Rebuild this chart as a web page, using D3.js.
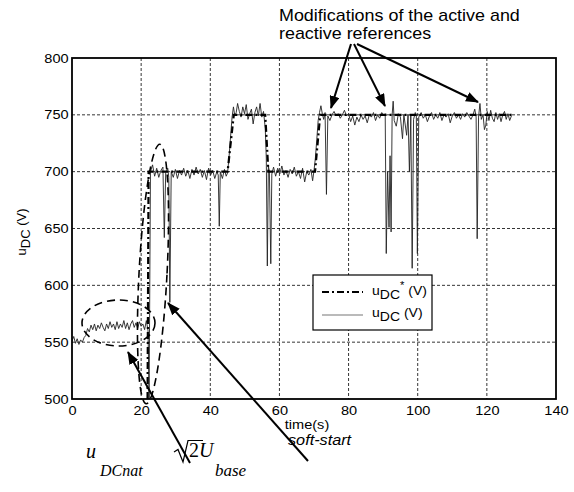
<!DOCTYPE html>
<html>
<head>
<meta charset="utf-8">
<script src="https://cdn.jsdelivr.net/npm/d3@7"></script>
<style>
  body { margin: 0; background: #fff; }
  svg { display: block; font-family: Arial, "Liberation Sans", sans-serif; }
</style>
</head>
<body>
<div id="chart"></div>
<script>
// axis ticks
var xTicks = [0, 20, 40, 60, 80, 100, 120, 140];
var yTicks = [500, 550, 600, 650, 700, 750, 800];

// reference u_DC* [time, volts]
var reference = [
  [21.85, 500], [22.15, 700], [45.0, 700], [46.8, 750], [55.9, 750],
  [56.8, 700], [70.3, 700], [71.8, 750], [127.4, 750]
];

var measured = [
  [0.0, 551], [0.5, 555], [1.0, 549], [1.5, 553], [2.0, 548], [2.5, 552], [3.0, 550],
  [3.5, 554], [4.0, 556], [4.5, 562], [5.0, 559], [5.5, 565], [6.0, 561], [6.5, 566],
  [7.0, 560], [7.5, 565], [8.0, 562], [8.5, 567], [9.0, 563], [9.5, 560], [10.0, 566],
  [10.5, 562], [11.0, 568], [11.5, 563], [12.0, 566], [12.5, 561], [13.0, 568], [13.5, 562],
  [14.0, 566], [14.5, 563], [15.0, 569], [15.5, 562], [16.0, 567], [16.5, 561], [17.0, 566],
  [17.5, 569], [18.0, 563], [18.5, 567], [19.0, 562], [19.5, 568], [20.0, 564], [20.5, 566],
  [21.0, 561], [21.5, 569], [22.0, 560], [22.3, 500], [22.7, 700], [23.3, 706], [23.9, 696],
  [24.5, 703], [25.1, 695], [25.7, 701], [26.3, 704], [26.7, 642], [27.1, 699], [27.7, 703],
  [28.0, 695], [28.3, 585], [28.7, 700], [29.3, 695], [29.9, 702], [30.5, 694], [31.1, 701],
  [31.7, 697], [32.3, 703], [32.9, 696], [33.5, 701], [34.1, 694], [34.7, 702], [35.3, 697],
  [35.9, 704], [36.5, 698], [37.1, 702], [37.7, 695], [38.3, 701], [38.9, 693], [39.5, 703],
  [40.1, 697], [40.7, 701], [41.3, 694], [41.9, 700], [42.3, 697], [42.6, 652], [42.9, 700],
  [43.5, 694], [44.1, 702], [44.6, 696], [45.0, 699], [45.4, 712], [45.8, 728], [46.3, 748],
  [46.7, 757], [47.1, 749], [47.5, 752], [47.9, 760], [48.4, 753], [48.9, 748], [49.4, 757],
  [49.9, 751], [50.4, 759], [50.9, 746], [51.4, 751], [51.9, 755], [52.4, 742], [52.9, 752],
  [53.4, 757], [53.9, 749], [54.4, 760], [54.9, 748], [55.4, 753], [55.9, 738], [56.2, 712],
  [56.5, 617], [56.8, 705], [57.1, 700], [57.5, 619], [57.8, 698], [58.3, 704], [58.9, 696],
  [59.5, 703], [60.1, 698], [60.7, 705], [61.3, 697], [61.9, 701], [62.5, 695], [63.1, 702],
  [63.7, 698], [64.3, 704], [64.9, 696], [65.5, 700], [66.1, 694], [66.7, 703], [67.3, 691],
  [67.9, 700], [68.5, 697], [69.1, 702], [69.6, 692], [70.0, 701], [70.4, 712], [70.8, 728],
  [71.2, 745], [71.6, 752], [72.0, 758], [72.4, 751], [72.8, 746], [73.2, 752], [73.6, 680],
  [74.0, 749], [74.6, 745], [75.2, 750], [75.8, 753], [76.4, 749], [77.0, 751], [77.6, 747],
  [78.2, 750], [78.8, 754], [79.4, 749], [80.0, 751], [80.6, 744], [81.2, 749], [81.8, 741],
  [82.4, 748], [83.0, 744], [83.6, 750], [84.2, 746], [84.8, 749], [85.4, 743], [86.0, 750],
  [86.6, 748], [87.2, 752], [87.8, 745], [88.4, 750], [89.0, 747], [89.6, 752], [90.2, 749],
  [90.6, 751], [90.9, 628], [91.3, 700], [91.7, 651], [92.0, 714], [92.3, 647], [92.6, 750],
  [92.9, 762], [93.2, 745], [93.8, 740], [94.4, 751], [95.0, 748], [95.6, 729], [96.0, 750],
  [96.8, 732], [97.2, 750], [97.6, 700], [98.0, 749], [98.4, 615], [98.8, 746], [99.3, 752],
  [99.6, 750], [99.9, 628], [100.3, 748], [101.0, 752], [101.6, 747], [102.2, 750], [102.8, 744],
  [103.4, 749], [104.0, 752], [104.6, 746], [105.2, 750], [105.8, 747], [106.4, 752], [107.0, 745],
  [107.6, 750], [108.2, 748], [108.8, 751], [109.4, 743], [110.0, 749], [110.6, 752], [111.2, 747],
  [111.8, 750], [112.4, 746], [113.0, 751], [113.6, 748], [114.2, 752], [114.8, 749], [115.4, 746],
  [116.0, 750], [116.5, 755], [116.9, 748], [117.2, 641], [117.6, 748], [118.0, 760], [118.4, 746],
  [118.9, 750], [119.3, 737], [119.7, 741], [120.1, 753], [120.6, 745], [121.1, 754], [121.6, 747],
  [122.1, 744], [122.6, 752], [123.1, 746], [123.6, 751], [124.1, 744], [124.6, 750], [125.1, 753],
  [125.6, 746], [126.1, 751], [126.6, 745], [127.1, 749]
];

var svgWidth = 574;
var svgHeight = 492;
var margin = { top: 58, right: 18, bottom: 93, left: 72 };
var width = svgWidth - margin.left - margin.right;
var height = svgHeight - margin.top - margin.bottom;
var sx = 1.12; // the figure is a little stretched sideways

var svg = d3.select("#chart").append("svg")
  .attr("width", svgWidth)
  .attr("height", svgHeight);

var defs = svg.append("defs");
defs.append("clipPath").attr("id", "plotClip")
  .append("rect").attr("width", width).attr("height", height);
defs.append("marker")
  .attr("id", "head")
  .attr("markerUnits", "userSpaceOnUse")
  .attr("markerWidth", 13).attr("markerHeight", 10)
  .attr("refX", 12).attr("refY", 5)
  .attr("orient", "auto")
  .append("path").attr("d", "M0,0 L13,5 L0,10 Z").attr("fill", "#000");

var chartGroup = svg.append("g")
  .attr("transform", `translate(${margin.left}, ${margin.top})`);

var xScale = d3.scaleLinear().domain([0, 140]).range([0, width]);
var yScale = d3.scaleLinear().domain([500, 800]).range([height, 0]);

// grid
chartGroup.append("g")
  .selectAll("line")
  .data(xTicks.slice(1, -1))
  .enter().append("line")
  .attr("x1", d => xScale(d)).attr("x2", d => xScale(d))
  .attr("y1", 0).attr("y2", height)
  .attr("stroke", "#000").attr("stroke-width", 0.8)
  .attr("stroke-dasharray", "3,2");
chartGroup.append("g")
  .selectAll("line")
  .data(yTicks.slice(1, -1))
  .enter().append("line")
  .attr("x1", 0).attr("x2", width)
  .attr("y1", d => yScale(d)).attr("y2", d => yScale(d))
  .attr("stroke", "#000").attr("stroke-width", 0.8)
  .attr("stroke-dasharray", "3,2");

// axes (labels only, the box is drawn below)
var bottomAxis = d3.axisBottom(xScale).tickValues(xTicks).tickSize(0).tickPadding(7);
var leftAxis = d3.axisLeft(yScale).tickValues(yTicks).tickSize(0).tickPadding(3);

var xAxis = chartGroup.append("g")
  .attr("transform", `translate(0, ${height})`)
  .call(bottomAxis);
var yAxis = chartGroup.append("g").call(leftAxis);

[xAxis, yAxis].forEach(function(ax) {
  ax.select(".domain").remove();
  ax.selectAll("text")
    .attr("font-size", 13)
    .attr("font-family", "Arial, 'Liberation Sans', sans-serif")
    .attr("fill", "#000")
    .attr("transform", `scale(${sx},1)`);
});

// lines
var line = d3.line().x(d => xScale(d[0])).y(d => yScale(d[1]));
var plot = chartGroup.append("g").attr("clip-path", "url(#plotClip)");

plot.append("path")
  .datum(measured)
  .attr("d", line)
  .attr("fill", "none")
  .attr("stroke", "#222")
  .attr("stroke-width", 0.9);

plot.append("path")
  .datum(reference)
  .attr("d", line)
  .attr("fill", "none")
  .attr("stroke", "#000")
  .attr("stroke-width", 2.2)
  .attr("stroke-dasharray", "7,3,2,3");

// box
chartGroup.append("rect")
  .attr("width", width).attr("height", height)
  .attr("fill", "none").attr("stroke", "#000").attr("stroke-width", 1.8);

// helper for stretched text
function label(x, y, str, size, extra) {
  var g = svg.append("g").attr("transform", `translate(${x},${y}) scale(${sx},1)`);
  var t = g.append("text").attr("font-size", size).attr("fill", "#000").text(str);
  if (extra) extra(t);
  return t;
}

// axis titles
label(307, 429, "time(s)", 13, t => t.attr("text-anchor", "middle"));

var yl = svg.append("text")
  .attr("transform", "translate(26, 232) rotate(-90)")
  .attr("text-anchor", "middle")
  .attr("font-size", 13);
yl.append("tspan").text("u");
yl.append("tspan").attr("dy", 4).text("DC");
yl.append("tspan").attr("dy", -4).text(" (V)");

// dashed ellipses
svg.append("ellipse")
  .attr("cx", 118.5).attr("cy", 323).attr("rx", 36.5).attr("ry", 23)
  .attr("fill", "none").attr("stroke", "#000").attr("stroke-width", 1.6)
  .attr("stroke-dasharray", "8,5");
svg.append("ellipse")
  .attr("transform", "translate(153, 274) rotate(3)")
  .attr("rx", 14).attr("ry", 130)
  .attr("fill", "none").attr("stroke", "#000").attr("stroke-width", 1.6)
  .attr("stroke-dasharray", "8,5");

// legend
var legend = svg.append("g");
legend.append("rect")
  .attr("x", 313).attr("y", 275).attr("width", 119).attr("height", 55)
  .attr("fill", "#fff").attr("stroke", "#000").attr("stroke-width", 1.2);
legend.append("line")
  .attr("x1", 322).attr("x2", 363).attr("y1", 292).attr("y2", 292)
  .attr("stroke", "#000").attr("stroke-width", 2.2).attr("stroke-dasharray", "7,3,2,3");
legend.append("line")
  .attr("x1", 322).attr("x2", 363).attr("y1", 315).attr("y2", 315)
  .attr("stroke", "#777").attr("stroke-width", 1.2);

label(372, 295, "", 12.5, function(t) {
  t.append("tspan").text("u");
  t.append("tspan").attr("dy", 4).text("DC");
  t.append("tspan").attr("dy", -10).attr("font-size", 10).text("*");
  t.append("tspan").attr("dy", 6).text(" (V)");
});
label(372, 317, "", 12.5, function(t) {
  t.append("tspan").text("u");
  t.append("tspan").attr("dy", 4).text("DC");
  t.append("tspan").attr("dy", -4).text(" (V)");
});

// annotation text at the top
var top1 = label(279, 21, "Modifications of the active and", 16);
var len1 = top1.node().getComputedTextLength();
top1.attr("word-spacing", Math.max(0, (239 / sx - len1) / 4));
label(279, 39, "reactive references", 16);

// arrows
var arrows = [
  [351, 44, 331, 108],
  [354, 44, 385, 106],
  [357, 44, 478, 102],
  [190, 463, 128, 352],
  [308, 461, 168, 303]
];
svg.append("g").selectAll("line")
  .data(arrows)
  .enter().append("line")
  .attr("x1", d => d[0]).attr("y1", d => d[1])
  .attr("x2", d => d[2]).attr("y2", d => d[3])
  .attr("stroke", "#000").attr("stroke-width", 2)
  .attr("marker-end", "url(#head)");

// bottom labels
label(288, 445, "soft-start", 14.5, t => t.attr("font-style", "italic"));

var serif = "'Liberation Serif', 'Times New Roman', serif";
svg.append("text").attr("x", 86).attr("y", 458)
  .attr("font-family", serif).attr("font-style", "italic").attr("font-size", 20).text("u");
svg.append("text").attr("x", 100).attr("y", 476)
  .attr("font-family", serif).attr("font-style", "italic").attr("font-size", 16).text("DCnat");

svg.append("path")
  .attr("d", "M174,452 L178,449.5 L183,462 L188,440.5 L203,440.5")
  .attr("fill", "none").attr("stroke", "#000").attr("stroke-width", 1.2);
svg.append("text").attr("x", 189).attr("y", 457)
  .attr("font-family", serif).attr("font-size", 20).text("2");
svg.append("text").attr("x", 199).attr("y", 457)
  .attr("font-family", serif).attr("font-style", "italic").attr("font-size", 20).text("U");
svg.append("text").attr("x", 215).attr("y", 476)
  .attr("font-family", serif).attr("font-style", "italic").attr("font-size", 17).text("base");
</script>
</body>
</html>
